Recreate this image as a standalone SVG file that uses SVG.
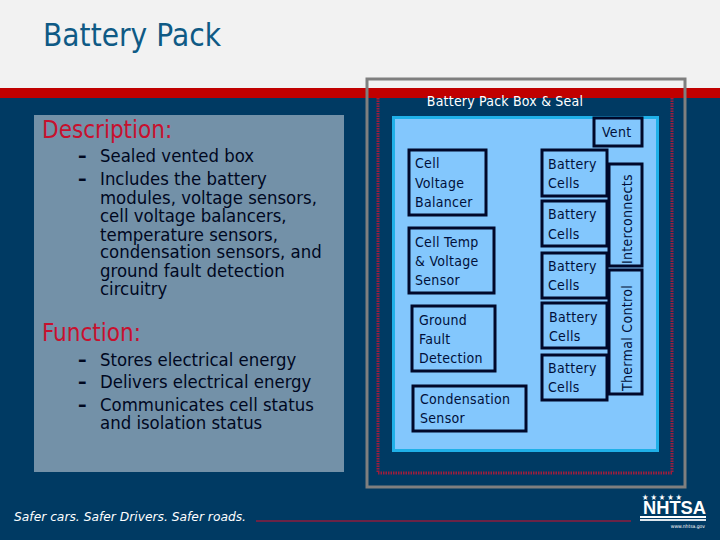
<svg xmlns="http://www.w3.org/2000/svg" width="720" height="540" viewBox="0 0 720 540">
<style>
text{font-family:"DejaVu Sans Condensed","DejaVu Sans","Liberation Sans",sans-serif}
.b{font-size:18.4px;fill:#00081f}
.d{font-size:19px;font-weight:700;fill:#00081f}
.h{font-size:24px;fill:#c8102e}
.n{font-size:14px;fill:#00103a;letter-spacing:.3px}
.box{fill:#83c7fd;stroke:#00082a;stroke-width:3}
</style>
<rect width="720" height="540" fill="#003a63"/>
<rect width="720" height="88" fill="#f2f2f2"/>
<rect y="88" width="720" height="10" fill="#c00000"/>
<text x="43" y="46" style="font-size:32px;fill:#0f5a85;font-family:'DejaVu Sans','Noto Sans',sans-serif" textLength="178" lengthAdjust="spacingAndGlyphs">Battery Pack</text>
<g id="panel">
<rect x="34" y="115" width="310" height="357" fill="#7391a8"/>
<text class="h" x="42" y="138">Description:</text>
<text class="d" x="78" y="162">–</text><text class="b" x="100" y="162">Sealed vented box</text>
<text class="d" x="78" y="185">–</text><text class="b" x="100" y="185">Includes the battery</text>
<text class="b" x="100" y="204">modules, voltage sensors,</text>
<text class="b" x="100" y="222">cell voltage balancers,</text>
<text class="b" x="100" y="241">temperature sensors,</text>
<text class="b" x="100" y="258">condensation sensors, and</text>
<text class="b" x="100" y="277">ground fault detection</text>
<text class="b" x="100" y="295">circuitry</text>
<text class="h" x="42" y="341">Function:</text>
<text class="d" x="78" y="366">–</text><text class="b" x="100" y="366">Stores electrical energy</text>
<text class="d" x="78" y="388">–</text><text class="b" x="100" y="388">Delivers electrical energy</text>
<text class="d" x="78" y="411">–</text><text class="b" x="100" y="411">Communicates cell status</text>
<text class="b" x="100" y="429">and isolation status</text>
</g>
<g id="pack-box">
<rect x="367" y="79" width="318" height="408" fill="none" stroke="#7f7f7f" stroke-width="3"/>
<path d="M378 98V473H672V98" fill="none" stroke="#a01c3c" stroke-width="3" stroke-dasharray="1.500 1"/>
<text x="505" y="106" text-anchor="middle" style="font-size:14px;fill:#fff;letter-spacing:.2px">Battery Pack Box &amp; Seal</text>
<rect x="393.500" y="117.500" width="264" height="333" fill="#83c7fd" stroke="#1fb0e8" stroke-width="3"/>
</g>
<g id="vent"><rect class="box" x="594" y="118" width="48" height="28"/><text class="n" x="602" y="137">Vent</text></g>
<g id="cell-voltage-balancer"><rect class="box" x="409" y="150" width="77" height="65"/><text class="n" x="415" y="168">Cell</text><text class="n" x="415" y="188">Voltage</text><text class="n" x="415" y="207">Balancer</text></g>
<g id="cell-temp-sensor"><rect class="box" x="409" y="228" width="85" height="65"/><text class="n" x="415" y="247">Cell Temp</text><text class="n" x="415" y="266">&amp; Voltage</text><text class="n" x="415" y="285">Sensor</text></g>
<g id="ground-fault"><rect class="box" x="412" y="306" width="83" height="65"/><text class="n" x="419" y="325">Ground</text><text class="n" x="419" y="344">Fault</text><text class="n" x="419" y="363">Detection</text></g>
<g id="condensation"><rect class="box" x="413" y="386" width="113" height="45"/><text class="n" x="420" y="404">Condensation</text><text class="n" x="420" y="423">Sensor</text></g>
<g id="cells-1"><rect class="box" x="542" y="150" width="65" height="46"/><text class="n" x="548" y="169">Battery</text><text class="n" x="548" y="188">Cells</text></g>
<g id="cells-2"><rect class="box" x="542" y="201" width="65" height="45"/><text class="n" x="548" y="219">Battery</text><text class="n" x="548" y="239">Cells</text></g>
<g id="cells-3"><rect class="box" x="542" y="253" width="65" height="45"/><text class="n" x="548" y="271">Battery</text><text class="n" x="548" y="290">Cells</text></g>
<g id="cells-4"><rect class="box" x="542" y="303" width="65" height="45"/><text class="n" x="549" y="322">Battery</text><text class="n" x="549" y="341">Cells</text></g>
<g id="cells-5"><rect class="box" x="542" y="355" width="65" height="45"/><text class="n" x="548" y="373">Battery</text><text class="n" x="548" y="392">Cells</text></g>
<g id="interconnects"><rect class="box" x="609" y="164" width="33" height="102"/><text class="n" transform="translate(632 264) rotate(-90)">Interconnects</text></g>
<g id="thermal-control"><rect class="box" x="609" y="270" width="33" height="124"/><text class="n" transform="translate(632 391) rotate(-90)" textLength="106" lengthAdjust="spacing">Thermal Control</text></g>
<g id="footer">
<text x="14" y="521" style="font-size:13px;font-style:italic;fill:#fff" textLength="232" lengthAdjust="spacingAndGlyphs">Safer cars. Safer Drivers. Safer roads.</text>
<line x1="256" y1="521" x2="631" y2="521" stroke="#8e1c3c" stroke-width="1.500"/>
<text x="642" y="500" style="font-size:8px;fill:#fff" textLength="40" lengthAdjust="spacing">★★★★★</text>
<text x="643" y="514" style="font-size:19px;font-weight:700;fill:#fff;font-family:'Liberation Sans',sans-serif" textLength="63" lengthAdjust="spacingAndGlyphs">NHTSA</text>
<rect x="640" y="516" width="66" height="2" fill="#fff"/><rect x="640" y="519" width="66" height="2" fill="#dfe7ee"/>
<text x="705" y="528" text-anchor="end" style="font-size:5px;fill:#fff">www.nhtsa.gov</text>
</g>
</svg>
